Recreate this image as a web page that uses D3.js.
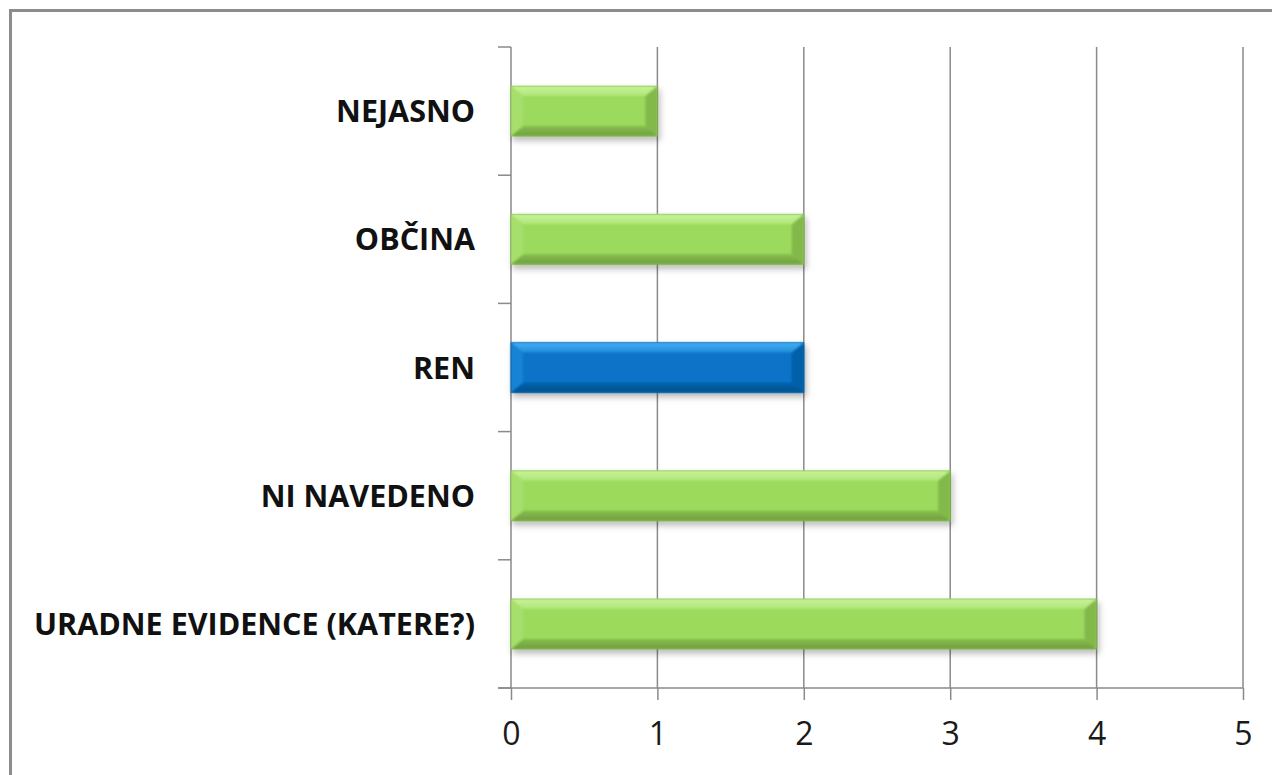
<!DOCTYPE html>
<html>
<head>
<meta charset="utf-8">
<script src="https://cdn.jsdelivr.net/npm/d3@7"></script>
<style>
  html, body { margin: 0; padding: 0; background: #fff; }
  svg { display: block; }
</style>
</head>
<body>
<svg id="chart" width="1272" height="775"></svg>
<script>
// ---- data ----
const categories = ["NEJASNO", "OBČINA", "REN", "NI NAVEDENO", "URADNE EVIDENCE (KATERE?)"];
const values = [1, 2, 2, 3, 4];
const highlight = ["REN"];
const xTicks = [0, 1, 2, 3, 4, 5];

const data = categories.map((c, i) => ({ cat: c, value: values[i] }));

const svg = d3.select("#chart");

// outer frame
svg.append("rect")
  .attr("x", 10.5).attr("y", 10.5)
  .attr("width", 1400).attr("height", 1000)
  .attr("fill", "#fff").attr("stroke", "#8c8c8c").attr("stroke-width", 3);

const x = d3.scaleLinear().domain([0, 5]).range([511, 1243]);
const y = d3.scaleBand().domain(categories).range([47, 688])
  .paddingInner(0.61).paddingOuter(0.305);

const defs = svg.append("defs");
const shadow = defs.append("filter").attr("id", "shadow")
  .attr("x", "-5%").attr("y", "-20%").attr("width", "115%").attr("height", "160%");
shadow.append("feDropShadow")
  .attr("dx", 2).attr("dy", 4).attr("stdDeviation", 3)
  .attr("flood-color", "#000").attr("flood-opacity", 0.28);
const soft = defs.append("filter").attr("id", "soft");
soft.append("feGaussianBlur").attr("stdDeviation", 0.9);

const palette = {
  green: { main: "#9bda5c", top: "#c9f39a", top2: "#aee677", bottom: "#6f9f3e", bottom2: "#88bd4f", left: "#a6df6c", right: "#83b84b" },
  blue: { main: "#0a73c8", top: "#45b0f3", top2: "#1e8ddc", bottom: "#04508e", bottom2: "#0763ad", left: "#1883d4", right: "#0560a9" }
};
Object.entries(palette).forEach(([k, c]) => {
  const gt = defs.append("linearGradient").attr("id", "top-" + k).attr("x1", 0).attr("y1", 0).attr("x2", 0).attr("y2", 1);
  gt.append("stop").attr("offset", "0%").attr("stop-color", c.top);
  gt.append("stop").attr("offset", "100%").attr("stop-color", c.top2);
  const gb = defs.append("linearGradient").attr("id", "bot-" + k).attr("x1", 0).attr("y1", 0).attr("x2", 0).attr("y2", 1);
  gb.append("stop").attr("offset", "0%").attr("stop-color", c.bottom2);
  gb.append("stop").attr("offset", "100%").attr("stop-color", c.bottom);
});

// gridlines
svg.append("g").selectAll("line").data(xTicks.slice(1)).join("line")
  .attr("x1", d => x(d)).attr("x2", d => x(d))
  .attr("y1", 47).attr("y2", 688)
  .attr("stroke", "#8a8a8a").attr("stroke-width", 1.5);

// x axis
const xAxis = svg.append("g")
  .attr("transform", "translate(0,688)")
  .call(d3.axisBottom(x).tickValues(xTicks).tickFormat(d3.format("d"))
    .tickSize(12).tickSizeOuter(0).tickPadding(22));
xAxis.select(".domain").remove();
xAxis.selectAll(".tick line").attr("stroke", "#8a8a8a").attr("stroke-width", 1.5);
xAxis.selectAll(".tick text")
  .style("font-family", "'Open Sans', Arial, sans-serif")
  .style("font-size", "32px").style("fill", "#1a1a1a");
xAxis.append("line")
  .attr("x1", 498).attr("x2", x(5)).attr("y1", 0).attr("y2", 0)
  .attr("stroke", "#8a8a8a").attr("stroke-width", 1.5);

// y axis (ticks at category boundaries)
const bounds = d3.range(categories.length + 1).map(i => y.range()[0] + i * y.step());
const yAxis = svg.append("g");
yAxis.append("line")
  .attr("x1", x(0)).attr("x2", x(0)).attr("y1", 47).attr("y2", 688)
  .attr("stroke", "#8a8a8a").attr("stroke-width", 1.5);
yAxis.selectAll("line.tk").data(bounds).join("line").attr("class", "tk")
  .attr("x1", 498).attr("x2", x(0)).attr("y1", d => d).attr("y2", d => d)
  .attr("stroke", "#8a8a8a").attr("stroke-width", 1.5);

yAxis.selectAll("text").data(categories).join("text")
  .attr("x", 475).attr("y", d => y(d) + y.bandwidth() / 2 + 11)
  .attr("text-anchor", "end")
  .style("font-family", "'Open Sans', Arial, sans-serif")
  .style("font-weight", "700").style("font-size", "30.5px").style("fill", "#111")
  .text(d => d);

// bevelled bars
const bx = 12, by = 10;

const bars = svg.append("g").selectAll("g").data(data).join("g")
  .attr("transform", d => `translate(${x(0)},${y(d.cat)})`)
  .attr("filter", "url(#shadow)");

bars.each(function(d) {
  const g = d3.select(this);
  const w = x(d.value) - x(0), h = y.bandwidth();
  const k = highlight.includes(d.cat) ? "blue" : "green";
  const c = palette[k];
  g.append("rect").attr("width", w).attr("height", h).attr("fill", c.main);
  const inner = g.append("g").attr("filter", "url(#soft)");
  const poly = (pts, fill) => inner.append("polygon")
    .attr("points", pts.map(p => p.join(",")).join(" ")).attr("fill", fill);
  poly([[0, 0], [w, 0], [w - bx, by], [bx, by]], `url(#top-${k})`);
  poly([[0, h], [w, h], [w - bx, h - by], [bx, h - by]], `url(#bot-${k})`);
  poly([[0, 0], [bx, by], [bx, h - by], [0, h]], c.left);
  poly([[w, 0], [w - bx, by], [w - bx, h - by], [w, h]], c.right);
  // crisp outline of the bar
  g.append("rect").attr("width", w).attr("height", h)
    .attr("fill", "none").attr("stroke", c.bottom).attr("stroke-opacity", 0.35).attr("stroke-width", 1);
});
</script>
</body>
</html>
